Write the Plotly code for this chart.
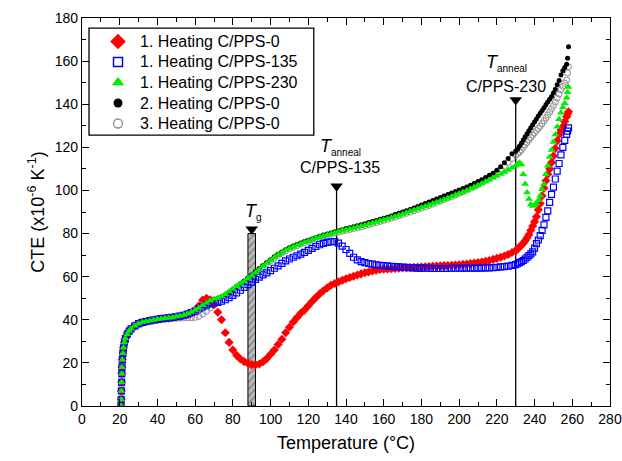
import plotly.graph_objects as go

# ---------------- data ----------------
T_START = [20.7, 20.8, 20.9, 21.0, 21.1, 21.2, 21.4, 21.7, 22, 22.5, 23, 24, 25,
           26, 28, 30, 32, 34, 36, 38, 40, 42, 44, 46, 48]
START_COMMON = [0, 3, 7, 11, 15, 18, 21.5, 24.5, 27, 29.5, 31.3, 33.3, 34.8,
                35.8, 37.2, 38.2, 38.8, 39.2, 39.6, 39.9, 40.2, 40.5, 40.7, 40.9, 41.1]
START_GREY = [0, 2.5, 6, 10, 14, 17, 20.5, 23.5, 26, 28.5, 30.5, 32.5, 34.0,
              35.0, 36.5, 37.6, 38.3, 38.8, 39.2, 39.5, 39.8, 40.0, 40.2, 40.4, 40.6]

T_MAIN = [50, 52, 54, 56, 58, 60, 62, 64, 66, 68,
          70, 72, 74, 76, 78, 80, 82, 84, 86, 88,
          90, 92, 94, 96, 98, 100, 102, 104, 106, 108,
          110, 112, 114, 116, 118, 120, 122, 124, 126, 128,
          130, 132, 134, 136, 138, 140, 142, 144, 146, 148,
          150, 152, 154, 156, 158, 160, 162, 164, 166, 168,
          170, 172, 174, 176, 178, 180, 182, 184, 186, 188,
          190, 192, 194, 196, 198, 200, 202, 204, 206, 208,
          210, 212, 214, 216, 218, 220, 222, 224, 226, 228,
          230,
          231, 232, 233, 234, 235, 236, 237, 238, 239, 240,
          241, 242, 243, 244, 245, 246, 247, 248, 249, 250,
          251, 252, 253, 254, 255, 256, 257,
          257.5, 258]

RED_MAIN = [41.4, 41.7, 42.1, 42.6, 43.4, 44.5, 46.5, 49.2, 50.0, 49.3,
            47.0, 43.5, 40.0, 34.0, 29.5, 26.0, 23.5, 21.8, 20.6, 19.8,
            19.2, 19.1, 19.5, 20.5, 22.0, 24.0, 26.0, 28.5, 31.0, 34.0,
            36.5, 39.0, 41.0, 43.0, 44.5, 46.5, 48.5, 50.3, 52.0, 53.5,
            54.8, 56.0, 56.8, 57.6, 58.3, 59.0, 59.6, 60.2, 60.8, 61.3,
            61.8, 62.2, 62.6, 63.0, 63.3, 63.5, 63.6, 63.7, 63.8, 63.9,
            64.0, 64.1, 64.2, 64.3, 64.4, 64.5, 64.6, 64.7, 64.8, 64.9,
            65.0, 65.1, 65.2, 65.3, 65.4, 65.5, 65.7, 65.9, 66.1, 66.3,
            66.5, 66.8, 67.1, 67.5, 68.0, 68.5, 69.0, 69.6, 70.3, 71.2,
            72.0,
            72.8, 73.7, 74.6, 75.5, 76.7, 78.0, 79.5, 81.5, 83.5, 85.5,
            87.8, 91.0, 94.0, 97.5, 101.0, 104.5, 107.5, 110.0, 113.0, 116.0,
            119.5, 123.0, 126.0, 128.0, 129.6, 132.0, 134.2,
            135.5, 136.5]

BLUE_MAIN = [41.4, 41.7, 42.1, 42.6, 43.3, 44.0, 45.0, 46.0, 46.8, 47.4,
             47.8, 48.1, 48.6, 49.3, 50.3, 51.3, 52.5, 53.7, 55.0, 56.3,
             57.5, 58.7, 59.8, 60.8, 61.8, 62.8, 63.9, 65.0, 66.2, 67.3,
             68.2, 69.0, 69.7, 70.5, 71.3, 72.2, 73.1, 74.0, 74.8, 75.4,
             75.9, 76.2, 76.3, 75.6, 74.2, 72.6, 70.8, 69.0, 67.8, 67.0,
             66.5, 66.1, 65.8, 65.5, 65.3, 65.1, 65.0, 64.8, 64.7, 64.5,
             64.4, 64.3, 64.2, 64.1, 64.0, 64.0, 63.9, 63.9, 63.8, 63.8,
             63.8, 63.8, 63.8, 63.9, 63.9, 63.9, 64.0, 64.0, 64.0, 64.0,
             64.0, 64.0, 64.1, 64.1, 64.2, 64.3, 64.5, 64.7, 64.9, 65.2,
             65.6,
             66.0, 66.5, 67.0, 67.5, 68.2, 69.0, 69.8, 70.6, 71.5, 73.2,
             75.3, 77.0, 79.0, 81.5, 84.0, 87.5, 90.5, 94.5, 98.2, 101.5,
             105.3, 109.0, 112.5, 116.5, 120.0, 123.2, 126.0,
             127.5, 129.0]

GREEN_MAIN = [41.5, 41.8, 42.2, 42.8, 43.6, 44.5, 45.5, 46.7, 47.8, 48.8,
              49.6, 50.1, 50.8, 51.9, 53.1, 54.3, 55.5, 56.7, 57.9, 59.2,
              60.4, 61.8, 63.3, 64.8, 66.2, 67.6, 68.9, 70.1, 71.2, 72.2,
              73.1, 73.9, 74.6, 75.3, 76.0, 76.6, 77.2, 77.8, 78.4, 78.9,
              79.4, 79.9, 80.4, 80.9, 81.4, 81.8, 82.2, 82.6, 83.0, 83.4,
              83.9, 84.4, 84.9, 85.4, 85.9, 86.4, 86.9, 87.4, 87.9, 88.5,
              89.1, 89.7, 90.3, 90.9, 91.5, 92.1, 92.7, 93.3, 93.9, 94.5,
              95.1, 95.8, 96.5, 97.2, 97.9, 98.6, 99.3, 100.0, 100.8, 101.6,
              102.4, 103.2, 104.0, 104.9, 105.8, 106.7, 107.6, 108.5, 109.5, 110.5,
              111.5,
              112.3, 112.8, 112.0, 107.5, 103.0, 99.0, 96.0, 93.5, 92.8, 93.2,
              94.0, 95.5, 97.5, 100.5, 103.0, 107.5, 111.5, 115.5, 118.8, 122.5,
              126.0, 129.5, 133.0, 136.0, 138.5, 140.5, 143.0,
              145.5, 148.0]

BLACK_MAIN = [41.5, 41.8, 42.2, 42.8, 43.5, 44.3, 45.3, 46.5, 47.6, 48.6,
              49.4, 50.0, 50.7, 51.7, 52.9, 54.1, 55.4, 56.7, 58.0, 59.4,
              60.8, 62.3, 63.8, 65.2, 66.6, 67.9, 69.2, 70.4, 71.5, 72.5,
              73.4, 74.2, 74.9, 75.6, 76.3, 76.9, 77.5, 78.1, 78.7, 79.3,
              79.8, 80.3, 80.8, 81.3, 81.8, 82.3, 82.7, 83.2, 83.6, 84.1,
              84.6, 85.1, 85.6, 86.1, 86.6, 87.1, 87.6, 88.2, 88.8, 89.4,
              90.0, 90.6, 91.2, 91.8, 92.5, 93.2, 93.9, 94.6, 95.3, 96.0,
              96.7, 97.4, 98.1, 98.8, 99.5, 100.2, 100.9, 101.6, 102.4, 103.2,
              104.1, 105.0, 106.0, 107.0, 108.0, 109.4, 111.0, 112.8, 114.8, 117.0,
              118.3,
              119.2, 120.5, 121.9, 123.4, 124.9, 126.3, 127.7, 129.1, 130.5, 131.9,
              133.2, 134.5, 135.8, 137.1, 138.4, 139.7, 141.0, 142.3, 143.6, 145.2,
              147.0, 149.0, 151.0, 153.5, 155.5, 157.0, 158.5,
              161.3, 166.7]

GREY_MAIN = [40.7, 40.8, 40.8, 40.9, 40.9, 41.1, 41.6, 42.6, 44.0, 45.5,
             47.0, 48.5, 49.8, 51.0, 52.3, 53.6, 54.9, 56.2, 57.5, 58.9,
             60.3, 61.8, 63.3, 64.7, 66.1, 67.4, 68.7, 69.9, 71.0, 72.0,
             72.9, 73.7, 74.4, 75.1, 75.8, 76.4, 77.0, 77.6, 78.2, 78.7,
             79.2, 79.7, 80.2, 80.7, 81.1, 81.5, 81.9, 82.3, 82.7, 83.1,
             83.6, 84.1, 84.6, 85.1, 85.6, 86.1, 86.6, 87.1, 87.6, 88.2,
             88.8, 89.4, 90.0, 90.6, 91.2, 91.8, 92.4, 93.0, 93.7, 94.4,
             95.1, 95.8, 96.5, 97.2, 97.9, 98.6, 99.4, 100.2, 101.0, 101.8,
             102.8, 103.8, 104.8, 105.9, 107.1, 108.4, 109.8, 111.3, 113.0, 114.8,
             116.3,
             117.0, 117.8, 118.8, 120.1, 121.2, 122.3, 123.4, 124.5, 125.6, 126.7,
             127.8, 128.8, 129.8, 131.0, 132.3, 133.6, 135.0, 136.4, 137.9, 139.4,
             141.0, 142.8, 144.7, 146.7, 148.3, 149.8, 151.2,
             154.5, 157.4]

SERIES_NAMES = ["1. Heating C/PPS-0", "1. Heating C/PPS-135", "1. Heating C/PPS-230",
                "2. Heating C/PPS-0", "3. Heating C/PPS-0"]

# Tg band and annealing temperatures
TG_RANGE = [88, 92]
TG_TOP = 80
ANNEAL_T = [135, 230]
ANNEAL_TOP = [100, 140]
ANNEAL_LABELS = ["C/PPS-135", "C/PPS-230"]

for arr in (RED_MAIN, BLUE_MAIN, GREEN_MAIN, BLACK_MAIN, GREY_MAIN):
    assert len(arr) == len(T_MAIN), (len(arr), len(T_MAIN))

T = T_START + T_MAIN
RED = START_COMMON + RED_MAIN
BLUE = START_COMMON + BLUE_MAIN
GREEN = START_COMMON + GREEN_MAIN
BLACK = START_COMMON + BLACK_MAIN
GREY = START_GREY + GREY_MAIN

FONT = "Arial, 'Liberation Sans', sans-serif"
SUB = "<sub><span style='font-size:10px'>{}</span></sub>"

fig = go.Figure()

# hatched Tg band (behind the data)
fig.add_trace(go.Scatter(
    x=[TG_RANGE[0], TG_RANGE[1], TG_RANGE[1], TG_RANGE[0], TG_RANGE[0]],
    y=[0, 0, TG_TOP, TG_TOP, 0],
    mode="lines", fill="toself", fillcolor="#b4b4b4",
    fillpattern=dict(shape="/", fgcolor="#3a3a3a", bgcolor="#b8b8b8", size=5, solidity=0.25),
    line=dict(color="black", width=1), showlegend=False, hoverinfo="skip"))

# annealing vertical lines
for t, top in zip(ANNEAL_T, ANNEAL_TOP):
    fig.add_trace(go.Scatter(x=[t, t], y=[0, top], mode="lines",
                             line=dict(color="black", width=1.3),
                             showlegend=False, hoverinfo="skip"))

# data series (drawing order: grey, black, red, blue, green on top)
fig.add_trace(go.Scatter(x=T, y=GREY, mode="markers", name=SERIES_NAMES[4],
                         marker=dict(symbol="circle-open", size=6, color="#8c8c8c",
                                     line=dict(width=1))))
fig.add_trace(go.Scatter(x=T, y=BLACK, mode="markers", name=SERIES_NAMES[3],
                         marker=dict(symbol="circle", size=5, color="black")))
fig.add_trace(go.Scatter(x=T, y=RED, mode="markers", name=SERIES_NAMES[0],
                         marker=dict(symbol="diamond", size=7, color="#ff0000")))
fig.add_trace(go.Scatter(x=T, y=BLUE, mode="markers", name=SERIES_NAMES[1],
                         marker=dict(symbol="square-open", size=6, color="#0000ff",
                                     line=dict(width=1.2))))
fig.add_trace(go.Scatter(x=T, y=GREEN, mode="markers", name=SERIES_NAMES[2],
                         marker=dict(symbol="triangle-up", size=7, color="#00ee00")))

# triangles on top of Tg band and anneal lines
fig.add_trace(go.Scatter(x=[sum(TG_RANGE) / 2] + ANNEAL_T,
                         y=[TG_TOP + 2] + [v + 2 for v in ANNEAL_TOP],
                         mode="markers", showlegend=False, hoverinfo="skip",
                         marker=dict(symbol="triangle-down", size=11, color="black")))

# ---- hand-drawn legend (box, symbols on an overlay axis, texts) ----
LEG_BOX = (0.0133, 0.698, 0.439, 0.974)          # plot-area fractions x0, y0, x1, y1
LEG_ROWS = [0.9394, 0.8866, 0.8338, 0.7809, 0.7281]
LEG_SYM_X = 0.0682
LEG_TXT_X = 0.106
legend_markers = [
    dict(symbol="diamond", size=12, color="#ff0000"),
    dict(symbol="square-open", size=9, color="#0000ff", line=dict(width=1.5)),
    dict(symbol="triangle-up", size=11, color="#00ee00"),
    dict(symbol="circle", size=9, color="black"),
    dict(symbol="circle-open", size=9, color="#8c8c8c", line=dict(width=1.3)),
]
fig.add_shape(type="rect", xref="paper", yref="paper",
              x0=LEG_BOX[0], y0=LEG_BOX[1], x1=LEG_BOX[2], y1=LEG_BOX[3],
              line=dict(color="black", width=1.3), fillcolor="white", layer="below")
for name, mk, yy in zip(SERIES_NAMES, legend_markers, LEG_ROWS):
    fig.add_trace(go.Scatter(x=[LEG_SYM_X], y=[yy], mode="markers", marker=mk,
                             xaxis="x2", yaxis="y2", showlegend=False, hoverinfo="skip"))
    fig.add_annotation(xref="paper", yref="paper", x=LEG_TXT_X, y=yy, text=name,
                       xanchor="left", yanchor="middle", showarrow=False,
                       font=dict(size=16, family=FONT, color="black"))

# annotations
fig.add_annotation(x=91.2, y=90, text="<i>T</i>" + SUB.format("g"), showarrow=False,
                   font=dict(size=18, family=FONT, color="black"))
ANN_DX = [2, -5]
ANN_SYM_DY = [20, 19]
ANN_LAB_DY = [10.5, 8]
for t, top, lab, dx, dys, dyl in zip(ANNEAL_T, ANNEAL_TOP, ANNEAL_LABELS, ANN_DX, ANN_SYM_DY, ANN_LAB_DY):
    fig.add_annotation(x=t + dx, y=top + dys, text="<i>T</i>" + SUB.format("anneal"),
                       showarrow=False, font=dict(size=18, family=FONT, color="black"))
    fig.add_annotation(x=t + dx, y=top + dyl, text=lab, showarrow=False,
                       font=dict(size=16, family=FONT, color="black"))

axis_common = dict(showline=True, linecolor="black", linewidth=1.3, mirror="allticks",
                   ticks="inside", ticklen=7, tickwidth=1.3, tickcolor="black",
                   showgrid=False, zeroline=False, automargin=False,
                   ticklabeloverflow="allow",
                   tickfont=dict(size=14, family=FONT, color="black"))

fig.update_xaxes(range=[0, 280], dtick=20, tick0=0,
                 minor=dict(dtick=10, ticks="inside", ticklen=4, tickwidth=1.3,
                            tickcolor="black", showgrid=False),
                 title=dict(text="Temperature (°C)", font=dict(size=18, family=FONT, color="black"),
                            standoff=10),
                 **axis_common)
fig.update_yaxes(range=[0, 180], dtick=20, tick0=0,
                 minor=dict(dtick=10, ticks="inside", ticklen=4, tickwidth=1.3,
                            tickcolor="black", showgrid=False),
                 title=dict(text="CTE (x10<sup>-6</sup> K<sup>-1</sup>)",
                            font=dict(size=18, family=FONT, color="black"), standoff=5),
                 **axis_common)

fig.update_layout(
    width=622, height=461,
    margin=dict(l=82, r=12, t=18, b=55),
    plot_bgcolor="white", paper_bgcolor="white",
    font=dict(family=FONT, color="black"),
    showlegend=False,
    xaxis2=dict(range=[0, 1], overlaying="x", visible=False, anchor="y2"),
    yaxis2=dict(range=[0, 1], overlaying="y", visible=False, anchor="x2"),
)

# remove the browser's default body margin so the 622x461 figure fills the window
fig.write_html("out.html",
               config={"displayModeBar": False},
               post_script="document.body.style.margin='0';document.body.style.overflow='hidden';")
